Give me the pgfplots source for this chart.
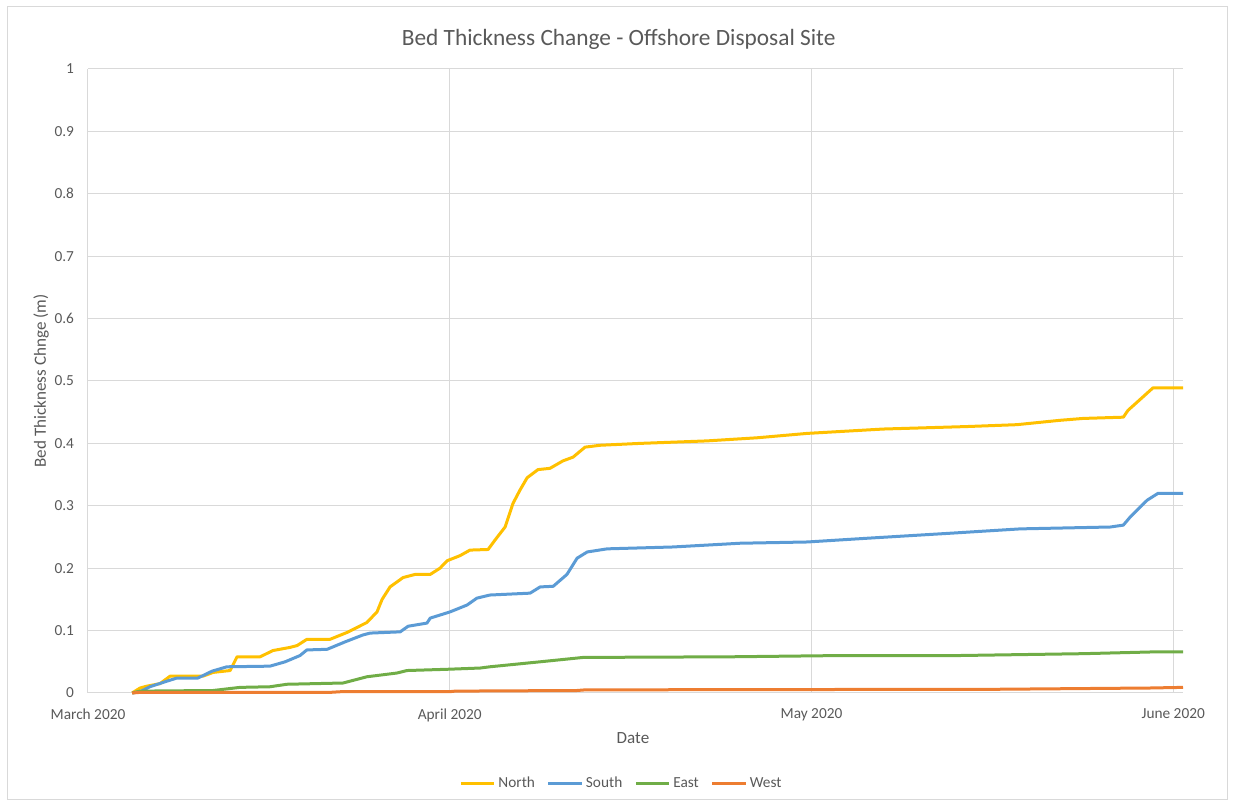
\documentclass[border=0pt]{standalone}
\usepackage{fontspec}
\setmainfont{Carlito}
\usepackage{pgfplots}
\pgfplotsset{compat=1.18}

\definecolor{north}{RGB}{255,192,0}
\definecolor{south}{RGB}{91,155,213}
\definecolor{east}{RGB}{112,173,71}
\definecolor{west}{RGB}{237,125,49}
\definecolor{gridgray}{RGB}{217,217,217}
\definecolor{textgray}{RGB}{89,89,89}

% x is measured in months from 1 March 2020
\pgfplotstableread{
x      y
0.122  0
0.144  0.008
0.163  0.011
0.199  0.015
0.227  0.027
0.318  0.027
0.346  0.033
0.393  0.036
0.412  0.058
0.476  0.058
0.511  0.068
0.558  0.073
0.578  0.076
0.605  0.086
0.669  0.086
0.716  0.097
0.771  0.113
0.799  0.130
0.813  0.150
0.835  0.170
0.871  0.185
0.904  0.190
0.946  0.190
0.973  0.200
0.993  0.212
1.028  0.220
1.056  0.229
1.106  0.230
1.125  0.245
1.153  0.266
1.175  0.304
1.194  0.325
1.214  0.345
1.244  0.358
1.277  0.360
1.313  0.372
1.341  0.378
1.374  0.394
1.416  0.397
1.526  0.400
1.711  0.404
1.850  0.409
1.988  0.416
2.198  0.423
2.430  0.427
2.568  0.430
2.687  0.437
2.751  0.440
2.862  0.442
2.875  0.453
2.900  0.466
2.944  0.489
3.027  0.489
}\northdata

\pgfplotstableread{
x      y
0.122  0
0.144  0.002
0.171  0.010
0.213  0.018
0.246  0.024
0.304  0.024
0.343  0.035
0.384  0.042
0.503  0.043
0.545  0.050
0.586  0.060
0.605  0.069
0.661  0.070
0.711  0.082
0.760  0.093
0.780  0.096
0.863  0.098
0.885  0.107
0.937  0.112
0.946  0.120
1.001  0.130
1.048  0.141
1.075  0.152
1.111  0.157
1.222  0.160
1.250  0.170
1.286  0.171
1.324  0.190
1.352  0.216
1.380  0.226
1.435  0.231
1.617  0.234
1.803  0.240
1.988  0.242
2.154  0.248
2.383  0.256
2.577  0.263
2.826  0.266
2.862  0.269
2.881  0.282
2.928  0.309
2.958  0.320
3.027  0.320
}\southdata

\pgfplotstableread{
x      y
0.122  0
0.144  0.003
0.346  0.004
0.420  0.009
0.503  0.010
0.550  0.014
0.705  0.016
0.771  0.026
0.854  0.032
0.882  0.036
0.993  0.038
1.084  0.040
1.111  0.042
1.250  0.050
1.369  0.057
1.775  0.058
2.079  0.060
2.403  0.060
2.751  0.063
2.956  0.066
3.027  0.066
}\eastdata

\pgfplotstableread{
x      y
0.122  0
0.144  0.001
0.669  0.001
0.697  0.002
0.998  0.002
1.015  0.003
1.352  0.004
1.374  0.005
2.521  0.006
2.936  0.008
3.027  0.009
}\westdata

\begin{document}
\begin{tikzpicture}
% page frame and chart border
\useasboundingbox (-66pt,-84pt) rectangle (860.25pt,519.75pt);
\draw[gridgray, line width=0.75pt] (-60pt,-80.25pt) rectangle (854.25pt,514.5pt);

\begin{axis}[
  at={(0pt,0pt)}, anchor=south west,
  scale only axis, width=821.25pt, height=468pt,
  xmin=0, xmax=3.027, ymin=0, ymax=1,
  clip=false,
  xtick={0,1,2,3},
  xticklabels={March 2020, April 2020, May 2020, June 2020},
  ytick={0,0.1,0.2,0.3,0.4,0.5,0.6,0.7,0.8,0.9,1},
  yticklabels={0,0.1,0.2,0.3,0.4,0.5,0.6,0.7,0.8,0.9,1},
  grid=major,
  major grid style={gridgray, line width=0.75pt},
  axis line style={draw=none},
  major tick length=0pt,
  tick label style={font=\fontsize{11.5}{13}\selectfont, text=textgray},
  xticklabel style={yshift=-8pt},
  yticklabel style={xshift=-7pt},
  xlabel={Date},
  xlabel style={at={(axis description cs:0.4977,-0.0721)}, anchor=center,
    font=\fontsize{12.8}{15}\selectfont, text=textgray},
  ylabel={Bed Thickness Chnge (m)},
  ylabel style={at={(axis description cs:-0.0429,0.5)}, anchor=center,
    font=\fontsize{12.8}{15}\selectfont, text=textgray},
  legend columns=4,
  legend style={at={(axis description cs:0.4875,-0.1445)}, anchor=center,
    draw=none, fill=none, font=\fontsize{11.5}{13}\selectfont, text=textgray,
    /tikz/every even column/.append style={column sep=7pt}},
  legend image code/.code={\draw[#1, line width=2.25pt] (0pt,0pt) -- (25pt,0pt);},
  every axis plot/.append style={line width=2.25pt, line join=round},
]
\addplot[north] table[x=x, y=y] {\northdata};
\addlegendentry{North}
\addplot[south] table[x=x, y=y] {\southdata};
\addlegendentry{South}
\addplot[east] table[x=x, y=y] {\eastdata};
\addlegendentry{East}
\addplot[west] table[x=x, y=y] {\westdata};
\addlegendentry{West}
\end{axis}

\node[font=\fontsize{17.5}{21}\selectfont, text=textgray, anchor=center]
  at (398pt,490pt) {Bed Thickness Change - Offshore Disposal Site};
\end{tikzpicture}
\end{document}
